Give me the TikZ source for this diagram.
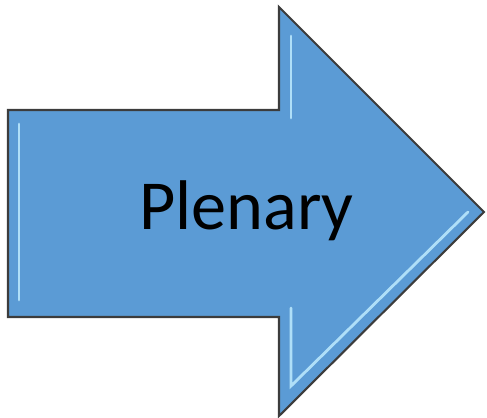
\documentclass[tikz,border=0pt]{standalone}
\usepackage{fontspec}
\setmainfont{Carlito}
\usetikzlibrary{calc}
\definecolor{arrowblue}{RGB}{91,155,213}
\definecolor{arrowedge}{RGB}{60,60,60}
\definecolor{glint}{RGB}{190,235,255}
\tikzset{
  blockarrow/.style = {fill=arrowblue, draw=arrowedge, line width=1.2pt, line join=miter},
  bevel/.style      = {draw=glint, line width=1.6pt, line cap=round, opacity=0.85},
  caption/.style    = {font=\fontsize{40}{44}\selectfont, text=black, inner sep=0pt},
}

\begin{document}
\begin{tikzpicture}[x=0.02cm, y=-0.02cm]
  \useasboundingbox (0,0) rectangle (487,418);
  % arrow body
  \draw[blockarrow] (8,110) -- (279,110) -- (279,7) -- (484,212)
                    -- (279,416) -- (279,317) -- (8,317) -- cycle;
  % bevel highlights
  \draw[bevel] (19,124) -- (19,300);
  \draw[bevel] (291,36) -- (291,118);
  \draw[bevel] (291,308) -- (291,386) -- (468,212);
  % text
  \node[caption, anchor=base] (plenary) at (246.5,230) {Plenary};
\end{tikzpicture}
\end{document}
